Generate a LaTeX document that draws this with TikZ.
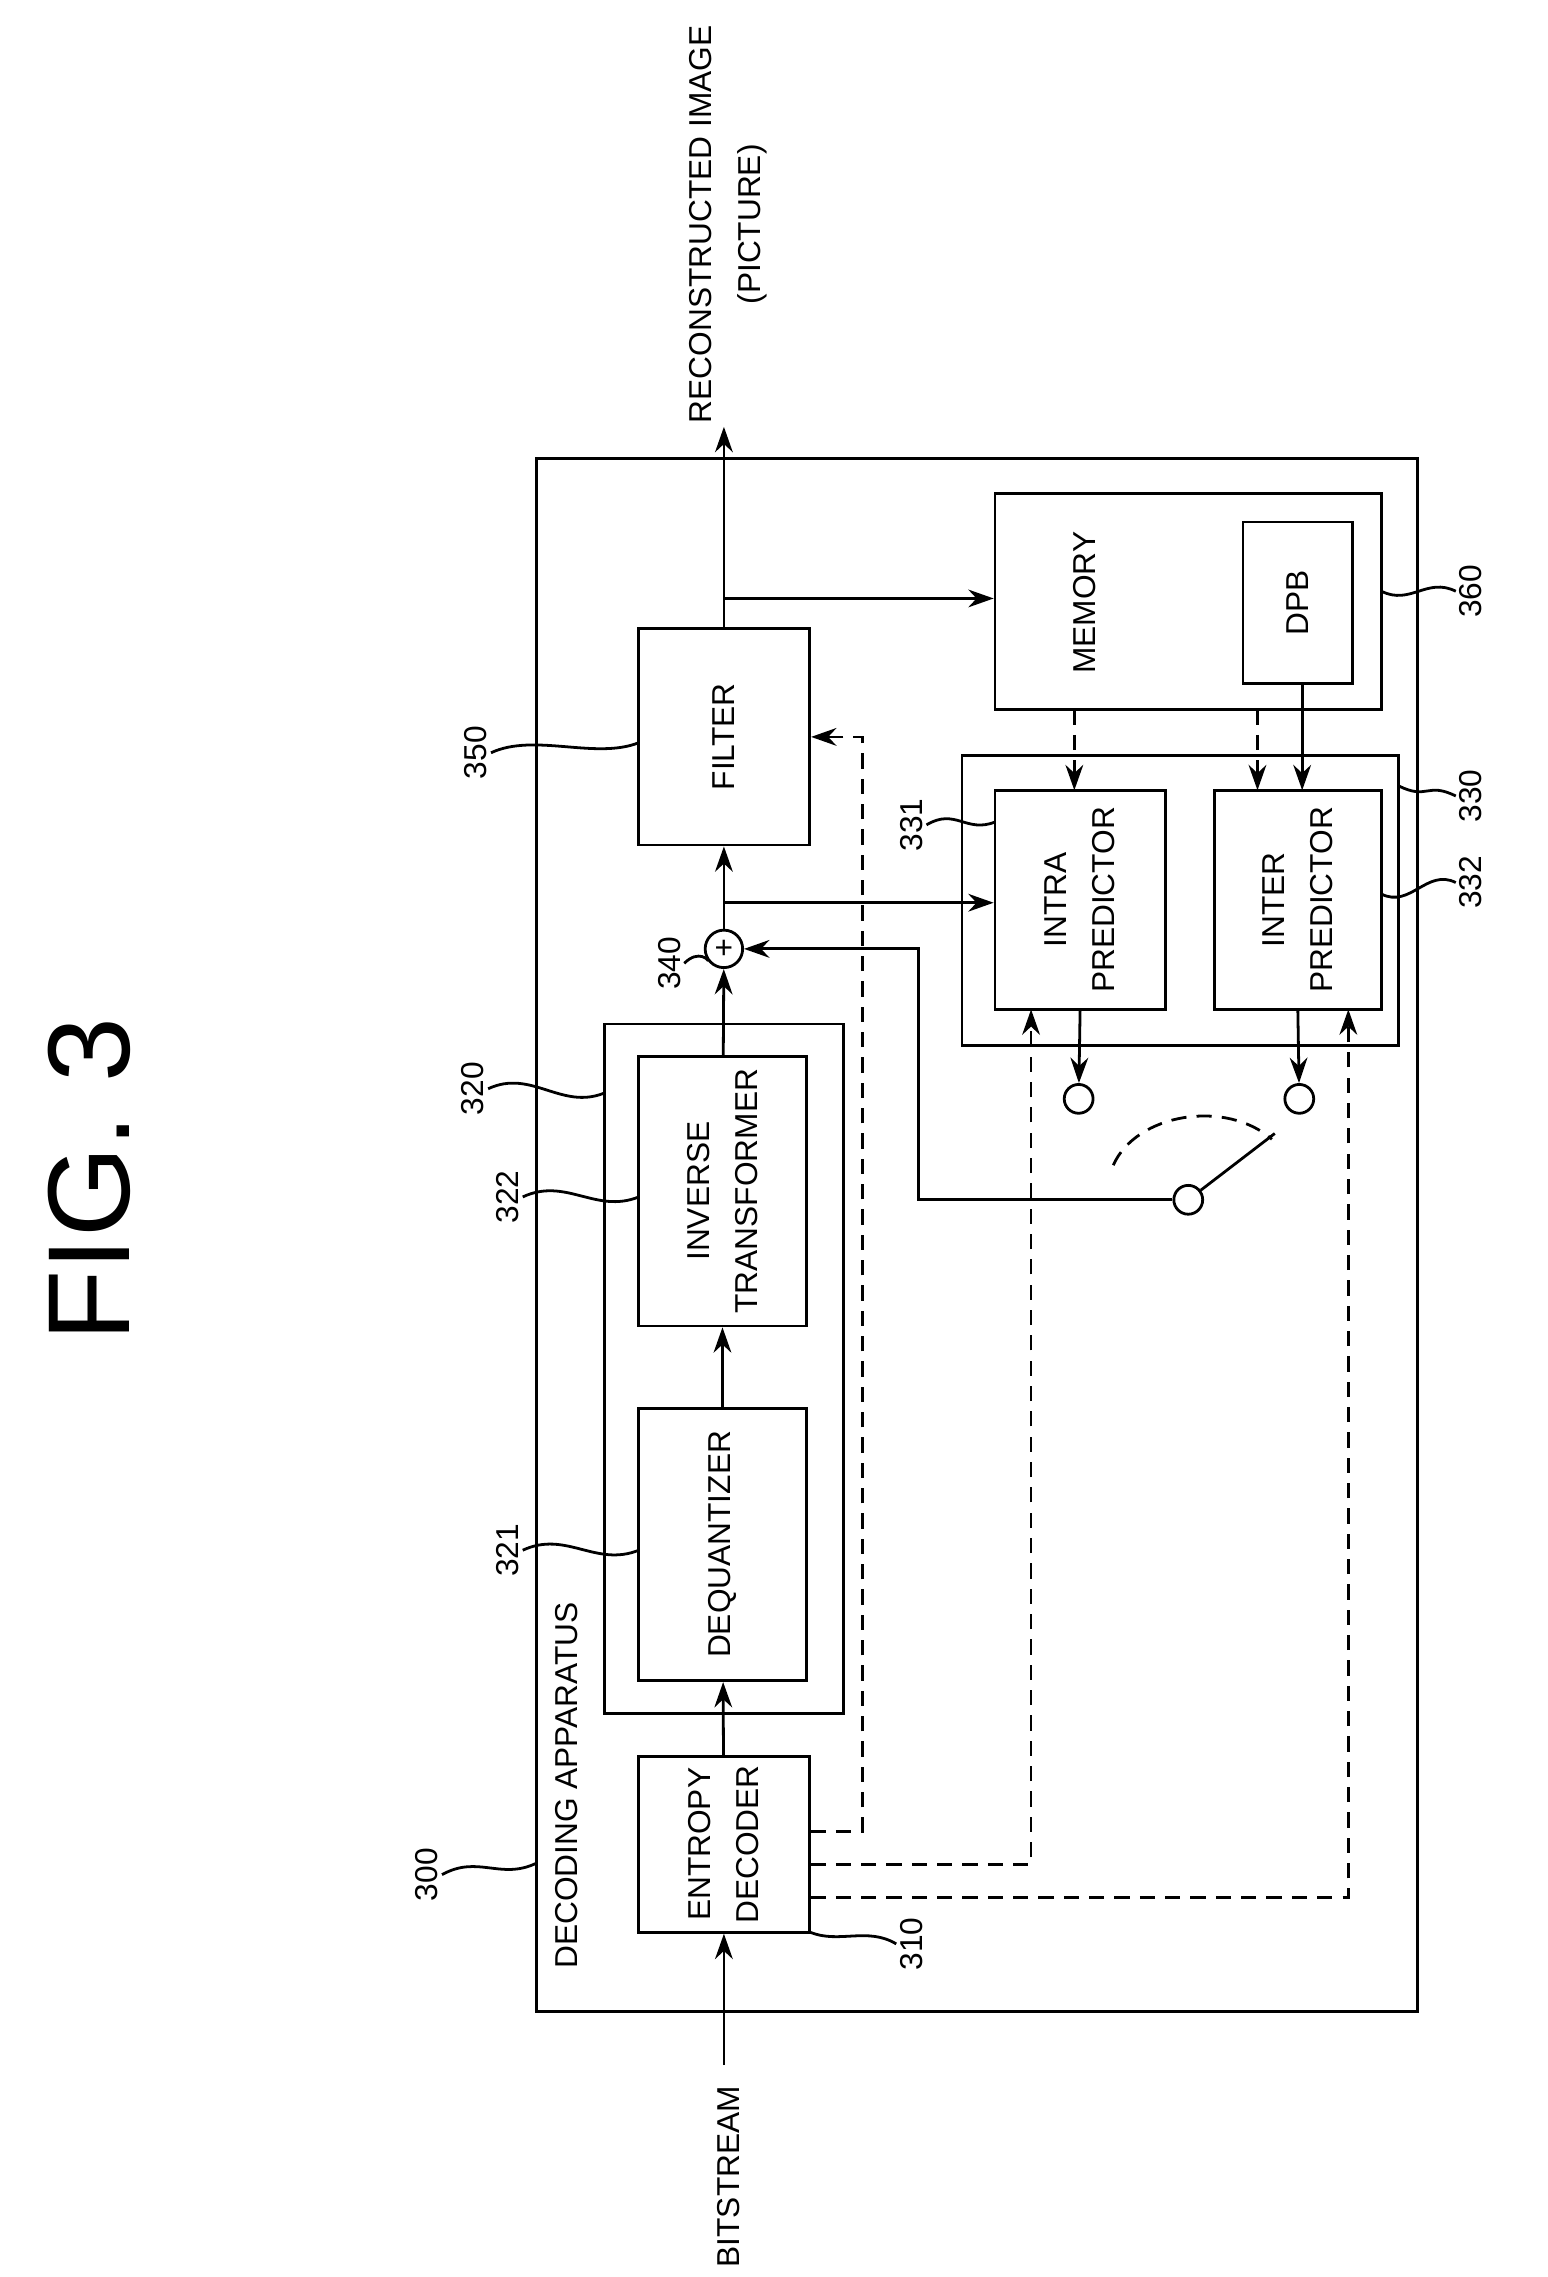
\documentclass[tikz,border=0pt]{standalone}
\usepackage{fontspec}
\setmainfont{Liberation Sans}
\usetikzlibrary{arrows.meta,positioning}
\newcommand{\bxfont}{\fontsize{12.5}{19}\selectfont}
\begin{document}
\begin{tikzpicture}[x=0.02cm,y=-0.02cm,line width=1.1pt,
  blk/.style={draw,rotate=90,align=center,font=\bxfont,inner sep=0pt},
  txt/.style={rotate=90,align=center,font=\bxfont,inner sep=1pt},
  arr/.style={-{Stealth[length=10pt,width=7pt]}},
  dsh/.style={dash pattern=on 6pt off 4pt},
  port/.style={draw,circle,minimum size=0.4cm,inner sep=0pt}]
%
\useasboundingbox (0,0) rectangle (1073,1579);
%
\node[rotate=90,font=\fontsize{46}{50}\selectfont] (fig) at (62,818) {FIG. 3};
%
% outer box and groups
\node[blk,minimum width=21.54cm,minimum height=12.22cm] (dec) at (677.5,856.5) {};
\node[txt,anchor=west] (decl) at (393,1368) {DECODING APPARATUS};
\node[blk,minimum width=9.56cm,minimum height=3.32cm] (grp) at (502,949) {};
\node[blk,minimum width=4.02cm,minimum height=6.06cm] (prd) at (818.5,624.5) {};
%
% blocks
\node[blk,minimum width=2.44cm,minimum height=2.38cm] (ent) at (502,1279) {ENTROPY\\DECODER};
\node[blk,minimum width=3.78cm,minimum height=2.34cm] (deq) at (501,1071) {DEQUANTIZER};
\node[blk,minimum width=3.74cm,minimum height=2.34cm] (inv) at (501,826) {INVERSE\\TRANSFORMER};
\node[draw,circle,minimum size=0.52cm,inner sep=0pt,font=\bxfont] (add) at (502,658) {+};
\node[blk,minimum width=3.0cm,minimum height=2.38cm] (flt) at (502,511) {FILTER};
\node[blk,minimum width=3.0cm,minimum height=5.36cm] (mem) at (824,417) {};
\node[txt] (meml) at (752,418) {MEMORY};
\node[blk,minimum width=2.24cm,minimum height=1.52cm] (dpb) at (900,418) {DPB};
\node[blk,minimum width=3.04cm,minimum height=2.36cm] (intra) at (749,624) {INTRA\\PREDICTOR};
\node[blk,minimum width=3.04cm,minimum height=2.32cm] (inter) at (900,624) {INTER\\PREDICTOR};
%
% switch
\node[port] (s1) at (748,762) {};
\node[port] (s2) at (901,762) {};
\node[port] (sp) at (824,832) {};
\draw (sp) -- (884,786);
\draw[dsh] (772,808) .. controls (788,772) and (850,762) .. (882,790);
%
% in / out
\node[txt,anchor=west] (bs) at (505,1575) {BITSTREAM};
\node[txt,anchor=east] (rec) at (505,15) {RECONSTRUCTED IMAGE\\(PICTURE)};
\coordinate (bsin) at (502,1432);
\coordinate (out) at (502,296);
\coordinate (br1) at (502,415);
\coordinate (br2) at (502,626);
\coordinate (sw) at (637,832);
%
% solid connections
\draw[arr] (bsin) -- (ent.west);
\draw[arr] (ent) -- (deq);
\draw[arr] (deq) -- (inv);
\draw[arr] (inv) -- (add);
\draw[arr] (add) -- (flt);
\draw[arr] (flt.east) -- (out);
\draw[arr] (br1) -- (mem.north |- br1);
\draw[arr] (br2) -- (intra.north |- br2);
\draw[arr] (intra.west) -- (s1);
\draw[arr] (inter.west) -- (s2);
\draw[arr] (sp) -- (sw) |- (add);
\draw[arr] (dpb.west -| 903,0) -- (903,548);
%
% dashed control lines
\coordinate (e1) at (562,1270);
\coordinate (e2) at (562,1293);
\coordinate (e3) at (562,1316);
\draw[dsh,arr] (e1) -| (598,511) -- (flt.south);
\draw[dsh,arr] (e2) -| (715,700);
\draw[dsh,arr] (e3) -| (935,700);
\draw[dsh,arr] (745,492) -- (745,548);
\draw[dsh,arr] (872,492) -- (872,548);
%
% reference numerals
\tikzset{lbl/.style={rotate=90,font=\bxfont,inner sep=1pt}}
\node[lbl] (l300) at (296,1300) {300};
\node[lbl] (l310) at (632,1348) {310};
\node[lbl] (l321) at (352,1075) {321};
\node[lbl] (l322) at (352,830) {322};
\node[lbl] (l320) at (328,755) {320};
\node[lbl] (l340) at (464,668) {340};
\node[lbl] (l350) at (330,522) {350};
\node[lbl] (l331) at (632,572) {331};
\node[lbl] (l330) at (1020,552) {330};
\node[lbl] (l332) at (1020,612) {332};
\node[lbl] (l360) at (1020,410) {360};
%
\draw (l300.south) .. controls +(25,-14) and +(-25,12) .. (372,1292);
\draw (l310.north) .. controls +(-20,-12) and +(20,8) .. (562,1340);
\draw (l321.south) .. controls +(30,-14) and +(-30,12) .. (443,1075);
\draw (l322.south) .. controls +(30,-14) and +(-30,12) .. (443,830);
\draw (l320.south) .. controls +(30,-14) and +(-30,12) .. (419,758);
\draw (l340.south) .. controls +(10,-10) and +(-10,8) .. (add);
\draw (l350.south) .. controls +(30,-14) and +(-30,12) .. (443,515);
\draw (l331.south) .. controls +(20,-12) and +(-20,8) .. (690,570);
\draw (l330.north) .. controls +(-20,-10) and +(20,10) .. (970,545);
\draw (l332.north) .. controls +(-20,-10) and +(20,10) .. (958,620);
\draw (l360.north) .. controls +(-20,-10) and +(20,10) .. (958,410);
\end{tikzpicture}
\end{document}
